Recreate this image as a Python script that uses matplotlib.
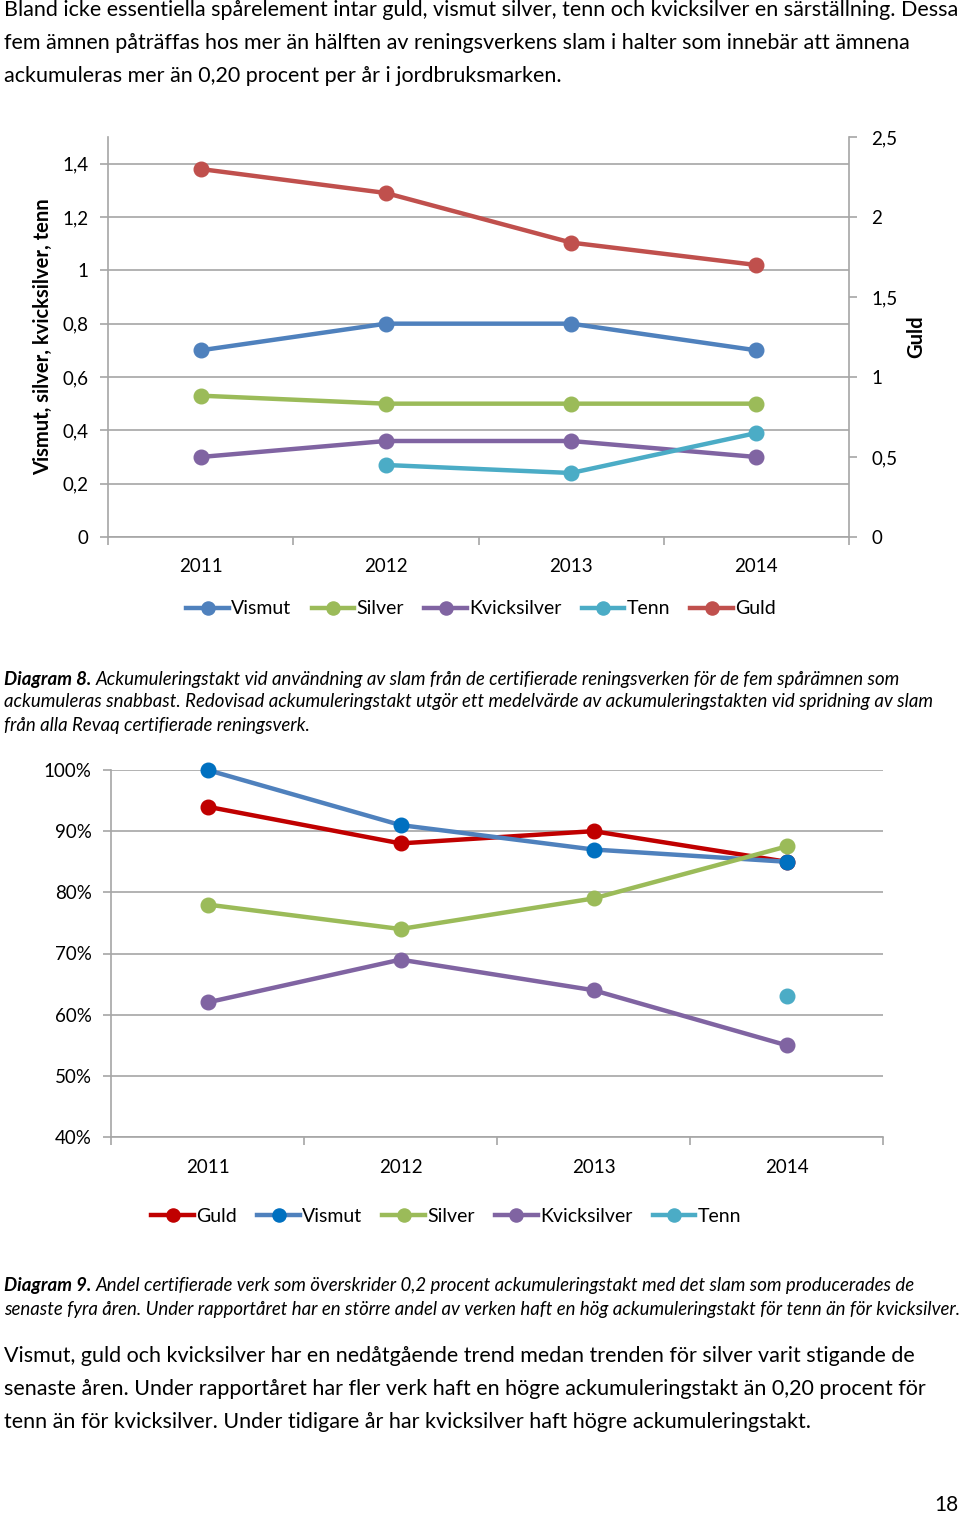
import matplotlib.pyplot as plt
import numpy as np

plt.rcParams['font.family'] = ['Lato', 'DejaVu Sans']

# Data
years = ['2011', '2012', '2013', '2014']

# Diagram 8 - ackumuleringstakt
vismut_8 = [0.70, 0.80, 0.80, 0.70]
silver_8 = [0.53, 0.50, 0.50, 0.50]
kvick_8 = [0.30, 0.36, 0.36, 0.30]
tenn_8 = [np.nan, 0.27, 0.24, 0.39]
guld_8 = [2.30, 2.15, 1.84, 1.70]   # höger axel

# Diagram 9 - andel verk över 0,2 procent
guld_9 = [0.94, 0.88, 0.90, 0.85]
vismut_9 = [1.00, 0.91, 0.87, 0.85]
silver_9 = [0.78, 0.74, 0.79, 0.875]
kvick_9 = [0.62, 0.69, 0.64, 0.55]
tenn_9 = [np.nan, np.nan, np.nan, 0.63]

left_ticks = [0, 0.2, 0.4, 0.6, 0.8, 1.0, 1.2, 1.4]
right_ticks = [0, 0.5, 1.0, 1.5, 2.0, 2.5]
pct_ticks = [0.4, 0.5, 0.6, 0.7, 0.8, 0.9, 1.0]

BLUE, GREEN, PURPLE, CYAN, RED = '#4F81BD', '#9BBB59', '#8064A2', '#4BACC6', '#C0504D'
GRID = '#a6a6a6'
W, H = 960, 1515


def fmt(v):
    s = ('%.1f' % v).rstrip('0').rstrip('.')
    return s.replace('.', ',')


def style_axes(ax, ylim, yticks, ylabels):
    x = np.arange(len(years))
    ax.set_xlim(-0.5, len(years) - 0.5)
    ax.set_ylim(*ylim)
    ax.set_yticks(yticks)
    ax.set_yticklabels(ylabels)
    ax.set_xticks(np.arange(-0.5, len(years)))
    ax.set_xticklabels([])
    ax.set_xticks(x, minor=True)
    ax.set_xticklabels(years, minor=True)
    ax.tick_params(axis='x', which='minor', length=0, pad=15, labelsize=13.5)
    ax.tick_params(axis='x', which='major', length=6, color=GRID, width=1.2)
    ax.tick_params(axis='y', length=6, color=GRID, width=1.2, labelsize=13.5, pad=8)
    ax.grid(axis='y', color=GRID, linewidth=1.2)
    ax.set_axisbelow(True)
    for s in ['top', 'right']:
        ax.spines[s].set_visible(False)
    for s in ['left', 'bottom']:
        ax.spines[s].set_color(GRID)
        ax.spines[s].set_linewidth(1.2)
    return x


fig = plt.figure(figsize=(W / 100, H / 100), dpi=100)
renderer = fig.canvas.get_renderer()


def caption(y, bold, rest):
    t = fig.text(4 / W, 1 - y / H, bold, fontsize=13.4, style='italic', fontweight='bold', va='center', ha='left')
    w = t.get_window_extent(renderer).width
    fig.text((4 + w + 4) / W, 1 - y / H, rest, fontsize=13.4, style='italic', va='center', ha='left')


# Texts
body = dict(fontsize=15.5, color='black', va='center', ha='left')
fig.text(4 / W, 1 - 10 / H, 'Bland icke essentiella spårelement intar guld, vismut silver, tenn och kvicksilver en särställning. Dessa', **body)
fig.text(4 / W, 1 - 43 / H, 'fem ämnen påträffas hos mer än hälften av reningsverkens slam i halter som innebär att ämnena', **body)
fig.text(4 / W, 1 - 76 / H, 'ackumuleras mer än 0,20 procent per år i jordbruksmarken.', **body)

# ---------------- Diagram 8 ----------------
ax1 = fig.add_axes([108 / W, 1 - 537 / H, 741 / W, 400 / H])
x = style_axes(ax1, (0, 1.5), left_ticks, [fmt(v) for v in left_ticks])
ax1.set_ylabel('Vismut, silver, kvicksilver, tenn', fontsize=14.5, fontweight='bold')
ax1.yaxis.set_label_coords((53 - 108) / 741, 0.5)
ax1b = ax1.twinx()
ax1b.set_ylim(0, 2.5)
ax1b.set_yticks(right_ticks)
ax1b.set_yticklabels([fmt(v) for v in right_ticks])
ax1b.tick_params(axis='y', length=6, color=GRID, width=1.2, labelsize=13.5, pad=10)
for s in ['top', 'left', 'bottom']:
    ax1b.spines[s].set_visible(False)
ax1b.spines['right'].set_color(GRID)
ax1b.spines['right'].set_linewidth(1.2)
ax1b.set_ylabel('Guld', fontsize=14.5, fontweight='bold')
ax1b.yaxis.set_label_coords((906 - 108) / 741, 0.5)

mk = dict(marker='o', markersize=10.5, linewidth=3.2)
l1, = ax1.plot(x, vismut_8, color=BLUE, label='Vismut', **mk)
l2, = ax1.plot(x, silver_8, color=GREEN, label='Silver', **mk)
l3, = ax1.plot(x, kvick_8, color=PURPLE, label='Kvicksilver', **mk)
l4, = ax1.plot(x, tenn_8, color=CYAN, label='Tenn', **mk)
l5, = ax1b.plot(x, guld_8, color=RED, label='Guld', **mk)
leg = dict(ncol=5, frameon=False, fontsize=14, handlelength=2.2, handletextpad=0.1,
           columnspacing=1.05, markerscale=0.9, loc='center')
fig.legend(handles=[l1, l2, l3, l4, l5], bbox_to_anchor=(481 / W, 1 - 609 / H), **leg)

caption(679, 'Diagram 8.', 'Ackumuleringstakt vid användning av slam från de certifierade reningsverken för de fem spårämnen som')
cap = dict(fontsize=13.4, style='italic', va='center', ha='left')
fig.text(4 / W, 1 - 702 / H, 'ackumuleras snabbast. Redovisad ackumuleringstakt utgör ett medelvärde av ackumuleringstakten vid spridning av slam', **cap)
fig.text(4 / W, 1 - 725 / H, 'från alla Revaq certifierade reningsverk.', **cap)

# ---------------- Diagram 9 ----------------
ax2 = fig.add_axes([111 / W, 1 - 1137 / H, 772 / W, 367 / H])
x = style_axes(ax2, (0.4, 1.0), pct_ticks, ['%d%%' % round(v * 100) for v in pct_ticks])
ax2.tick_params(axis='x', which='minor', pad=16)
m1, = ax2.plot(x, guld_9, color='#C00000', label='Guld', **mk)
m2, = ax2.plot(x, vismut_9, color=BLUE, markerfacecolor='#0070C0', markeredgecolor='#0070C0', label='Vismut', **mk)
m3, = ax2.plot(x, silver_9, color=GREEN, label='Silver', **mk)
m4, = ax2.plot(x, kvick_9, color=PURPLE, label='Kvicksilver', **mk)
m5, = ax2.plot(x, tenn_9, color=CYAN, label='Tenn', **mk)
for a in ax2.lines:
    a.set_clip_on(False)
fig.legend(handles=[m1, m2, m3, m4, m5], bbox_to_anchor=(446 / W, 1 - 1216 / H), **leg)

caption(1286, 'Diagram 9.', 'Andel certifierade verk som överskrider 0,2 procent ackumuleringstakt med det slam som producerades de')
fig.text(4 / W, 1 - 1309 / H, 'senaste fyra åren. Under rapportåret har en större andel av verken haft en hög ackumuleringstakt för tenn än för kvicksilver.', **cap)

fig.text(4 / W, 1 - 1356 / H, 'Vismut, guld och kvicksilver har en nedåtgående trend medan trenden för silver varit stigande de', **body)
fig.text(4 / W, 1 - 1389 / H, 'senaste åren. Under rapportåret har fler verk haft en högre ackumuleringstakt än 0,20 procent för', **body)
fig.text(4 / W, 1 - 1422 / H, 'tenn än för kvicksilver. Under tidigare år har kvicksilver haft högre ackumuleringstakt.', **body)
fig.text(958 / W, 1 - 1505 / H, '18', fontsize=15, ha='right', va='center')

fig.savefig('out.png', dpi=100)
